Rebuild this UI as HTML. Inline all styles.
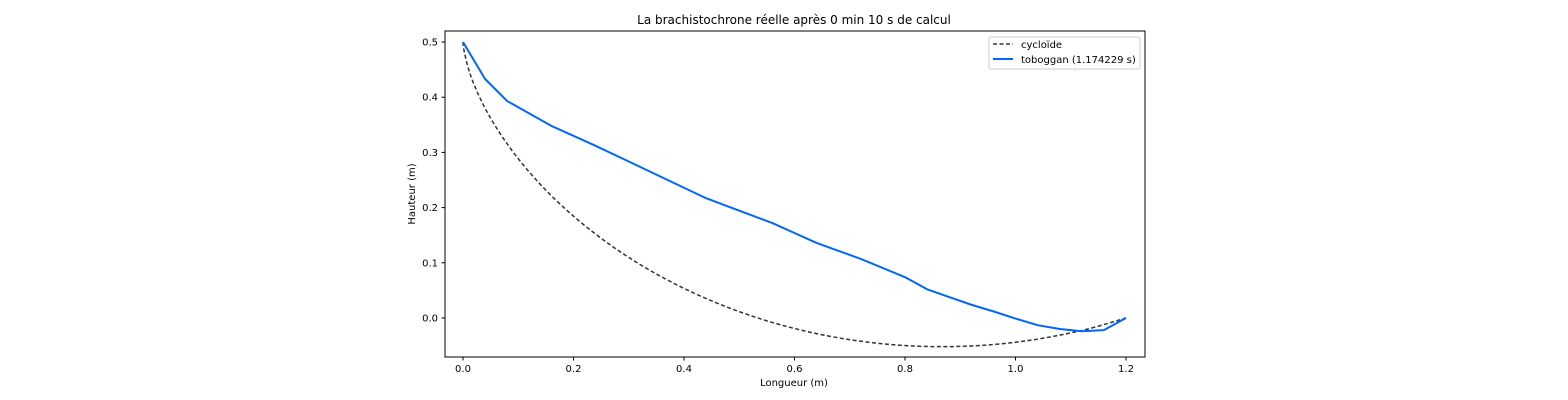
<!DOCTYPE html>
<html><head><meta charset="utf-8"><style>
html,body{margin:0;padding:0;background:#fff;}
svg{display:block;font-family:"DejaVu Sans","Liberation Sans",sans-serif;}
</style></head><body>
<svg id="chart" width="1568" height="400">
<text x="794" y="24" text-anchor="middle" font-size="12">La brachistochrone réelle après 0 min 10 s de calcul</text>
<g id="axes"></g>
<g id="series"></g>
<rect x="445" y="31" width="700" height="326" fill="none" stroke="#000" stroke-width="1"/>
<text x="794" y="386" text-anchor="middle" font-size="10">Longueur (m)</text>
<text transform="translate(415,194) rotate(-90)" text-anchor="middle" font-size="10">Hauteur (m)</text>
<g>
<rect x="989" y="37" width="151" height="32" fill="#fff" stroke="#ccc" rx="2"/>
<line x1="993" y1="44" x2="1013" y2="44" stroke="#333" stroke-width="1.5" stroke-dasharray="4,2.5"/>
<text x="1021" y="48" font-size="10">cycloïde</text>
<line x1="993" y1="59" x2="1013" y2="59" stroke="#0066ff" stroke-width="2"/>
<text x="1021" y="63" font-size="10">toboggan (1.174229 s)</text>
</g>
</svg>
<script>
const xTicks=[0,0.2,0.4,0.6,0.8,1.0,1.2];
const xTickLabels=["0.0","0.2","0.4","0.6","0.8","1.0","1.2"];
const yTicks=[0,0.1,0.2,0.3,0.4,0.5];
const yTickLabels=["0.0","0.1","0.2","0.3","0.4","0.5"];
const cycX=[0,0.00016,0.0012,0.0098,0.0228,0.0437,0.074,0.1144,0.1657,0.228,0.301,0.384,0.476,0.5753,0.680,0.789,0.899,1.009,1.116,1.2];
const cycY=[0.5,0.4969,0.4877,0.4518,0.4163,0.3731,0.324,0.2709,0.2159,0.1613,0.1091,0.0616,0.0205,-0.0125,-0.036,-0.0492,-0.0515,-0.0428,-0.0235,0];
const tobX=[0,0.04,0.08,0.16,0.24,0.32,0.36,0.44,0.52,0.56,0.60,0.64,0.72,0.80,0.84,0.88,0.92,0.96,1.00,1.04,1.08,1.12,1.16,1.2];
const tobY=[0.5,0.433,0.393,0.348,0.312,0.274,0.255,0.217,0.187,0.172,0.154,0.136,0.107,0.074,0.052,0.038,0.024,0.012,-0.001,-0.013,-0.020,-0.024,-0.022,0];
const NS="http://www.w3.org/2000/svg";
const sx=v=>463+v*552.5;
const sy=v=>318-v*552;
const axes=document.getElementById('axes');
const series=document.getElementById('series');
function mk(tag,attrs,parent){const e=document.createElementNS(NS,tag);for(const k in attrs)e.setAttribute(k,attrs[k]);parent.appendChild(e);return e;}
xTicks.forEach((v,i)=>{
 const l=mk('line',{x1:sx(v),x2:sx(v),y1:357,y2:360.5,stroke:'#000'},axes);
 
 
 const t=mk('text',{x:sx(v),y:372,'text-anchor':'middle','font-size':10},axes);
 t.textContent=xTickLabels[i];
 
 
});
yTicks.forEach((v,i)=>{
 const l=mk('line',{x1:441.5,x2:445,y1:sy(v),y2:sy(v),stroke:'#000'},axes);
 
 
 const t=mk('text',{x:438,y:sy(v)+3.5,'text-anchor':'end','font-size':10},axes);
 t.textContent=yTickLabels[i];
 
 
});
function smooth(px,py){
 let d='M'+px[0]+','+py[0];
 for(let i=0;i<px.length-1;i++){
  const i0=Math.max(0,i-1),i3=Math.min(px.length-1,i+2);
  const c1x=px[i]+(px[i+1]-px[i0])/6,c1y=py[i]+(py[i+1]-py[i0])/6;
  const c2x=px[i+1]-(px[i3]-px[i])/6,c2y=py[i+1]-(py[i3]-py[i])/6;
  d+=' C'+c1x+','+c1y+' '+c2x+','+c2y+' '+px[i+1]+','+py[i+1];
 }
 return d;
}
const c=mk('path',{d:smooth(cycX.map(sx),cycY.map(sy)),fill:'none',stroke:'#333','stroke-width':1.5,'stroke-dasharray':'4,2.5'},series);


const t=mk('polyline',{points:tobX.map((x,i)=>sx(x)+','+sy(tobY[i])).join(' '),fill:'none',stroke:'#0066ff','stroke-width':2,'stroke-linejoin':'round'},series);


</script>
</body></html>
